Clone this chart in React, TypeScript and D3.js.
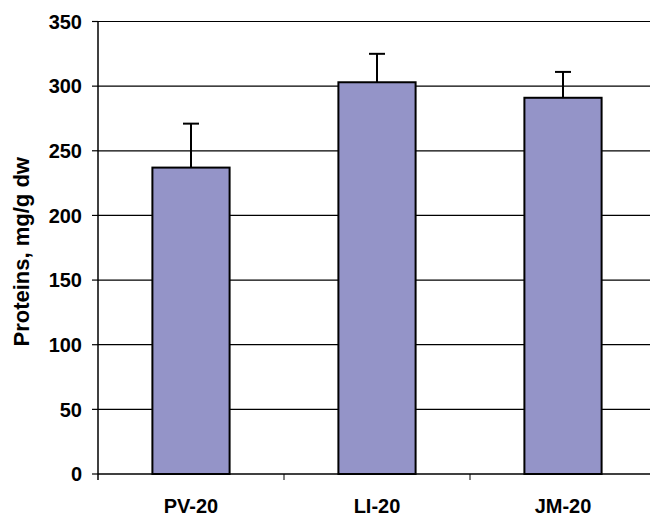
import React, { useEffect, useRef } from 'react';
import * as d3 from 'd3';

const categories = ['PV-20', 'LI-20', 'JM-20'];
const values = [237, 303, 291];
const errors = [34, 22, 20];
const yTicks = [0, 50, 100, 150, 200, 250, 300, 350];

const W = 650;
const H = 517;
const margin = { left: 98, top: 21.5, right: -6, bottom: 43 };

const App: React.FC = () => {
  const svgRef = useRef<SVGSVGElement>(null);

  useEffect(() => {
    if (!svgRef.current) return;
    const svg = d3.select(svgRef.current);
    svg.selectAll('*').remove();

    const x0 = margin.left;
    const x1 = W - margin.right;
    const yTop = margin.top;
    const yBot = H - margin.bottom;

    const x = d3.scaleBand<string>().domain(categories).range([x0, x1]).paddingInner(0.585).paddingOuter(0.2925);
    const band = d3.scaleBand<string>().domain(categories).range([x0, x1]);
    const y = d3.scaleLinear().domain([0, 350]).range([yBot, yTop]);

    const font = "'Liberation Sans', Arial, sans-serif";

    // gridlines
    svg.append('g')
      .selectAll('line')
      .data(yTicks.filter(t => t > 0))
      .join('line')
      .attr('x1', x0).attr('x2', x1)
      .attr('y1', d => y(d)).attr('y2', d => y(d))
      .attr('stroke', '#000').attr('stroke-width', 1.2);

    // y axis ticks + labels
    const ya = svg.append('g');
    ya.selectAll('line')
      .data(yTicks)
      .join('line')
      .attr('x1', x0 - 6).attr('x2', x0)
      .attr('y1', d => y(d)).attr('y2', d => y(d))
      .attr('stroke', '#000').attr('stroke-width', 1.2);
    ya.selectAll('text')
      .data(yTicks)
      .join('text')
      .attr('x', x0 - 16)
      .attr('y', d => y(d))
      .attr('dy', '0.36em')
      .attr('text-anchor', 'end')
      .style('font-family', font)
      .style('font-weight', 'bold')
      .style('font-size', '20px')
      .text(d => d);

    // bars
    svg.append('g')
      .selectAll('rect')
      .data(categories)
      .join('rect')
      .attr('x', d => x(d)!)
      .attr('width', x.bandwidth())
      .attr('y', (d, i) => y(values[i]))
      .attr('height', (d, i) => yBot - y(values[i]))
      .attr('fill', '#9494c8')
      .attr('stroke', '#000')
      .attr('stroke-width', 2);

    // error bars (upper only)
    const eb = svg.append('g').attr('stroke', '#000').attr('stroke-width', 2);
    categories.forEach((c, i) => {
      const cx = x(c)! + x.bandwidth() / 2;
      eb.append('line')
        .attr('x1', cx).attr('x2', cx)
        .attr('y1', y(values[i])).attr('y2', y(values[i] + errors[i]));
      eb.append('line')
        .attr('x1', cx - 8).attr('x2', cx + 8)
        .attr('y1', y(values[i] + errors[i])).attr('y2', y(values[i] + errors[i]));
    });

    // axes lines
    svg.append('line')
      .attr('x1', x0).attr('x2', x0)
      .attr('y1', yTop).attr('y2', yBot + 6)
      .attr('stroke', '#000').attr('stroke-width', 1.5);
    svg.append('line')
      .attr('x1', x0).attr('x2', x1)
      .attr('y1', yBot).attr('y2', yBot)
      .attr('stroke', '#000').attr('stroke-width', 1.5);

    // x ticks at band edges
    svg.append('g')
      .selectAll('line')
      .data(categories)
      .join('line')
      .attr('x1', d => band(d)! + band.bandwidth())
      .attr('x2', d => band(d)! + band.bandwidth())
      .attr('y1', yBot).attr('y2', yBot + 6)
      .attr('stroke', '#000').attr('stroke-width', 1);

    // x labels
    svg.append('g')
      .selectAll('text')
      .data(categories)
      .join('text')
      .attr('x', d => x(d)! + x.bandwidth() / 2)
      .attr('y', yBot + 39)
      .attr('text-anchor', 'middle')
      .style('font-family', font)
      .style('font-weight', 'bold')
      .style('font-size', '20px')
      .text(d => d);

    // y title
    svg.append('text')
      .attr('transform', `translate(29,${(yTop + yBot) / 2 + 4}) rotate(-90)`)
      .attr('text-anchor', 'middle')
      .style('font-family', font)
      .style('font-weight', 'bold')
      .style('font-size', '22px')
      .text('Proteins, mg/g dw');
  }, []);

  return (
    <div style={{ position: 'absolute', left: 0, top: 0, width: W, height: H, overflow: 'hidden', background: '#fff' }}>
      <svg ref={svgRef} width={W} height={H} style={{ display: 'block', overflow: 'hidden' }} />
    </div>
  );
};

export default App;
